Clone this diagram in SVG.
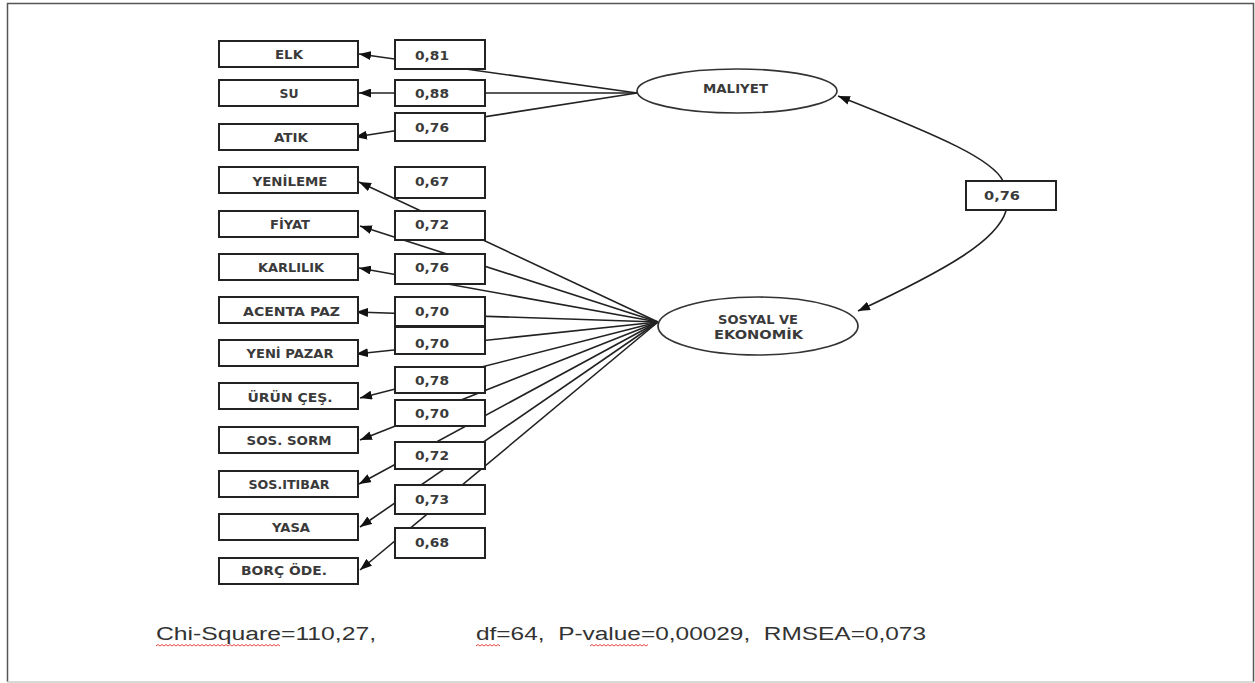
<svg xmlns="http://www.w3.org/2000/svg" width="1255" height="683" viewBox="0 0 1255 683">
<style>
.bx{fill:#fff;stroke:#222;stroke-width:2}
.el{fill:#fff;stroke:#333;stroke-width:1.7}
.ln{fill:none;stroke:#222;stroke-width:1.6;marker-end:url(#ah)}
.t{font-family:"DejaVu Sans",sans-serif;font-weight:bold;font-size:12px;fill:#3a3a3a}
.m{text-anchor:middle}
.f{font-family:"Liberation Sans",Arial,sans-serif;font-size:18px;fill:#333;white-space:pre}
.sq{fill:none;stroke:#d33;stroke-width:0.9}
</style>
<defs>
<marker id="ah" markerUnits="userSpaceOnUse" markerWidth="12" markerHeight="9" refX="12" refY="4.5" orient="auto">
<path d="M0,0 L12,4.5 L0,9 z" fill="#111"/>
</marker>
</defs>
<rect x="0" y="0" width="1255" height="683" fill="#fff"/>
<path d="M7.5,682 V3.5 H1253.5 V682" fill="none" stroke="#555" stroke-width="1.5"/>
<line x1="7" y1="682" x2="1254" y2="682" stroke="#ccc" stroke-width="1.5"/>

<g id="connectors">
<line class="ln" x1="637" y1="93" x2="359" y2="54"/>
<line class="ln" x1="637" y1="93" x2="359" y2="93"/>
<line class="ln" x1="637" y1="93" x2="355" y2="137"/>
<line class="ln" x1="658" y1="322" x2="359" y2="182"/>
<line class="ln" x1="658" y1="322" x2="360" y2="226"/>
<line class="ln" x1="658" y1="322" x2="359" y2="268"/>
<line class="ln" x1="658" y1="322" x2="356" y2="312"/>
<line class="ln" x1="658" y1="322" x2="356" y2="354"/>
<line class="ln" x1="658" y1="322" x2="360" y2="398"/>
<line class="ln" x1="658" y1="322" x2="360" y2="440"/>
<line class="ln" x1="658" y1="322" x2="359" y2="484"/>
<line class="ln" x1="658" y1="322" x2="360" y2="527"/>
<line class="ln" x1="658" y1="322" x2="360" y2="570"/>
<path class="ln" d="M1003,181 C993,160 945,138 838,96"/>
<path class="ln" d="M1006,211 C997,240 950,268 858,311"/>
</g>

<g id="n-elk"><rect class="bx" x="219" y="41" width="139" height="26"/><text class="t m" x="289" y="58.5" textLength="28" lengthAdjust="spacingAndGlyphs">ELK</text></g>
<g id="n-su"><rect class="bx" x="219" y="80" width="139" height="26"/><text class="t m" x="289" y="97.5" textLength="19" lengthAdjust="spacingAndGlyphs">SU</text></g>
<g id="n-atik"><rect class="bx" x="219" y="124" width="139" height="26"/><text class="t m" x="291" y="142" textLength="34" lengthAdjust="spacingAndGlyphs">ATIK</text></g>
<g id="n-yenileme"><rect class="bx" x="219" y="167" width="139" height="26"/><text class="t m" x="290" y="185.5" textLength="75" lengthAdjust="spacingAndGlyphs">YENİLEME</text></g>
<g id="n-fiyat"><rect class="bx" x="219" y="211" width="139" height="26"/><text class="t m" x="290" y="228.5" textLength="40" lengthAdjust="spacingAndGlyphs">FİYAT</text></g>
<g id="n-karlilik"><rect class="bx" x="219" y="254" width="139" height="26"/><text class="t m" x="291" y="271.5" textLength="66" lengthAdjust="spacingAndGlyphs">KARLILIK</text></g>
<g id="n-acenta"><rect class="bx" x="219" y="297" width="139" height="26"/><text class="t m" x="291.5" y="315.5" textLength="97" lengthAdjust="spacingAndGlyphs">ACENTA PAZ</text></g>
<g id="n-yenipazar"><rect class="bx" x="219" y="340" width="139" height="26"/><text class="t m" x="290" y="358" textLength="87" lengthAdjust="spacingAndGlyphs">YENİ PAZAR</text></g>
<g id="n-urun"><rect class="bx" x="219" y="383" width="139" height="26"/><text class="t m" x="290" y="401.5" textLength="85" lengthAdjust="spacingAndGlyphs">ÜRÜN ÇEŞ.</text></g>
<g id="n-sorm"><rect class="bx" x="219" y="427" width="139" height="26"/><text class="t m" x="289" y="445" textLength="85" lengthAdjust="spacingAndGlyphs">SOS. SORM</text></g>
<g id="n-itibar"><rect class="bx" x="219" y="471" width="139" height="26"/><text class="t m" x="289" y="488.5" textLength="81" lengthAdjust="spacingAndGlyphs">SOS.ITIBAR</text></g>
<g id="n-yasa"><rect class="bx" x="219" y="514" width="139" height="26"/><text class="t m" x="291" y="531.5" textLength="38" lengthAdjust="spacingAndGlyphs">YASA</text></g>
<g id="n-borc"><rect class="bx" x="219" y="558" width="139" height="26"/><text class="t m" x="284" y="575" textLength="86" lengthAdjust="spacingAndGlyphs">BORÇ ÖDE.</text></g>

<g id="v1"><rect class="bx" x="395" y="40" width="90" height="29"/><text class="t" x="415" y="59.5" textLength="34" lengthAdjust="spacingAndGlyphs">0,81</text></g>
<g id="v2"><rect class="bx" x="395" y="80" width="90" height="26"/><text class="t" x="415" y="97.5" textLength="34" lengthAdjust="spacingAndGlyphs">0,88</text></g>
<g id="v3"><rect class="bx" x="395" y="113" width="90" height="28"/><text class="t" x="415" y="131.5" textLength="34" lengthAdjust="spacingAndGlyphs">0,76</text></g>
<g id="v4"><rect class="bx" x="395" y="167" width="90" height="31"/><text class="t" x="415" y="185.5" textLength="34" lengthAdjust="spacingAndGlyphs">0,67</text></g>
<g id="v5"><rect class="bx" x="395" y="211" width="90" height="29"/><text class="t" x="415" y="228.5" textLength="34" lengthAdjust="spacingAndGlyphs">0,72</text></g>
<g id="v6"><rect class="bx" x="395" y="254" width="90" height="30"/><text class="t" x="415" y="271.5" textLength="34" lengthAdjust="spacingAndGlyphs">0,76</text></g>
<g id="v7"><rect class="bx" x="395" y="297" width="90" height="29"/><text class="t" x="415" y="315.5" textLength="34" lengthAdjust="spacingAndGlyphs">0,70</text></g>
<g id="v8"><rect class="bx" x="395" y="327" width="90" height="27"/><text class="t" x="415" y="347.5" textLength="34" lengthAdjust="spacingAndGlyphs">0,70</text></g>
<g id="v9"><rect class="bx" x="395" y="367" width="90" height="26"/><text class="t" x="415" y="384.5" textLength="34" lengthAdjust="spacingAndGlyphs">0,78</text></g>
<g id="v10"><rect class="bx" x="395" y="400" width="90" height="26"/><text class="t" x="415" y="417.5" textLength="34" lengthAdjust="spacingAndGlyphs">0,70</text></g>
<g id="v11"><rect class="bx" x="395" y="442" width="90" height="27"/><text class="t" x="415" y="459.5" textLength="34" lengthAdjust="spacingAndGlyphs">0,72</text></g>
<g id="v12"><rect class="bx" x="395" y="485" width="90" height="29"/><text class="t" x="415" y="503.5" textLength="34" lengthAdjust="spacingAndGlyphs">0,73</text></g>
<g id="v13"><rect class="bx" x="395" y="528" width="90" height="30"/><text class="t" x="415" y="546.5" textLength="34" lengthAdjust="spacingAndGlyphs">0,68</text></g>

<g id="n-maliyet"><ellipse class="el" cx="737" cy="91" rx="100" ry="22"/><text class="t m" x="735.5" y="92.5" textLength="65" lengthAdjust="spacingAndGlyphs">MALIYET</text></g>
<g id="n-sosyal"><ellipse class="el" cx="758" cy="326" rx="100" ry="29"/><text class="t m" x="758" y="323.5" textLength="80" lengthAdjust="spacingAndGlyphs">SOSYAL VE</text><text class="t m" x="758.5" y="338.5" textLength="89" lengthAdjust="spacingAndGlyphs">EKONOMİK</text></g>

<g id="v-corr"><rect class="bx" x="966" y="181" width="90" height="29"/><text class="t" x="984" y="200" textLength="36" lengthAdjust="spacingAndGlyphs">0,76</text></g>

<g id="footer">
<text class="f" x="156" y="640" textLength="220" lengthAdjust="spacingAndGlyphs">Chi-Square=110,27,</text>
<text class="f" x="476" y="640" textLength="450" lengthAdjust="spacingAndGlyphs" xml:space="preserve">df=64,  P-value=0,00029,  RMSEA=0,073</text>
<path class="sq" d="M156,646 l2,-1.5 l2,1.5 l2,-1.5 l2,1.5 l2,-1.5 l2,1.5 l2,-1.5 l2,1.5 l2,-1.5 l2,1.5 l2,-1.5 l2,1.5 l2,-1.5 l2,1.5 l2,-1.5 l2,1.5 l2,-1.5 l2,1.5 l2,-1.5 l2,1.5 l2,-1.5 l2,1.5 l2,-1.5 l2,1.5 l2,-1.5 l2,1.5 l2,-1.5 l2,1.5 l2,-1.5 l2,1.5 l2,-1.5 l2,1.5 l2,-1.5 l2,1.5 l2,-1.5 l2,1.5 l2,-1.5 l2,1.5 l2,-1.5 l2,1.5 l2,-1.5 l2,1.5 l2,-1.5 l2,1.5 l2,-1.5 l2,1.5 l2,-1.5 l2,1.5 l2,-1.5 l2,1.5 l2,-1.5 l2,1.5 l2,-1.5 l2,1.5 l2,-1.5 l2,1.5 l2,-1.5 l2,1.5 l2,-1.5 l2,1.5 l2,-1.5 l2,1.5"/>
<path class="sq" d="M476,646 l2,-1.5 l2,1.5 l2,-1.5 l2,1.5 l2,-1.5 l2,1.5 l2,-1.5 l2,1.5 l2,-1.5 l2,1.5 l2,-1.5 l2,1.5"/>
<path class="sq" d="M590,646 l2,-1.5 l2,1.5 l2,-1.5 l2,1.5 l2,-1.5 l2,1.5 l2,-1.5 l2,1.5 l2,-1.5 l2,1.5 l2,-1.5 l2,1.5 l2,-1.5 l2,1.5 l2,-1.5 l2,1.5 l2,-1.5 l2,1.5 l2,-1.5 l2,1.5 l2,-1.5 l2,1.5 l2,-1.5 l2,1.5 l2,-1.5 l2,1.5 l2,-1.5 l2,1.5 l2,-1.5"/>
</g>
</svg>
